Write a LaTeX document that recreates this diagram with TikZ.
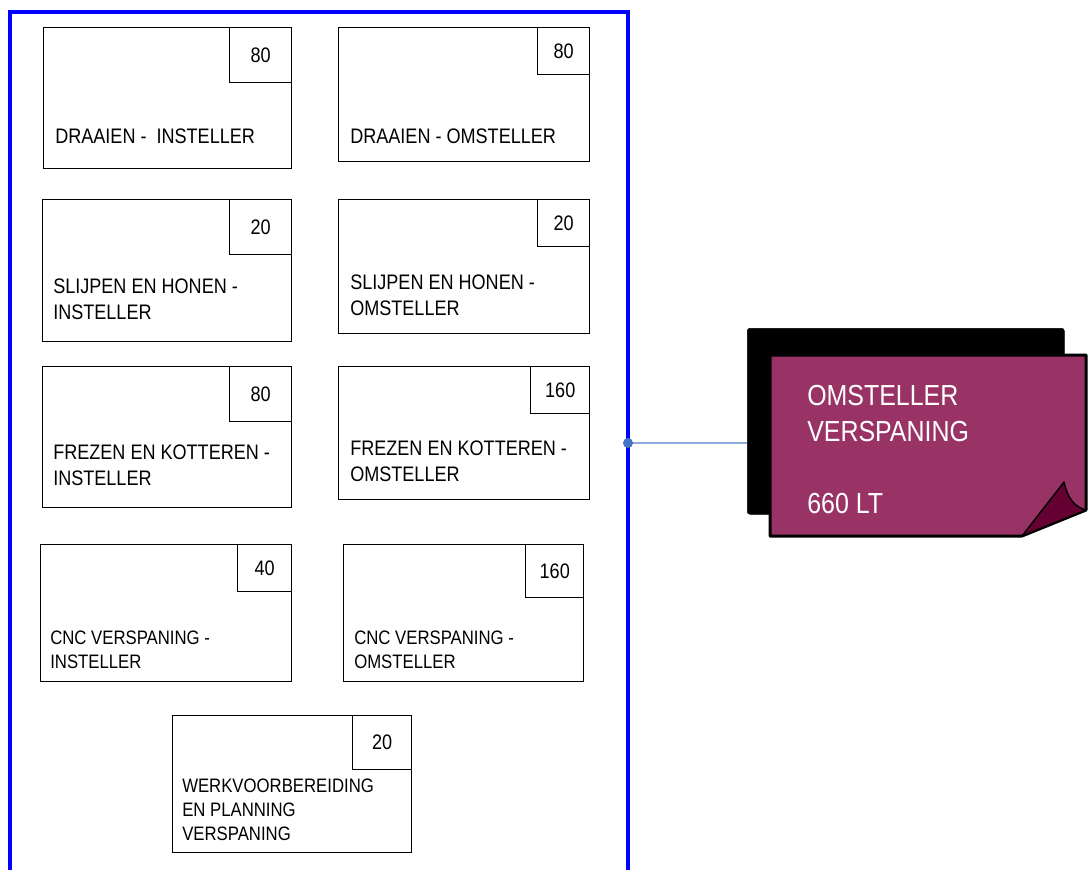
\documentclass[tikz,border=0pt]{standalone}
\usepackage{fontspec}
\setmainfont{Liberation Sans}[FakeStretch=0.86]
\definecolor{kaderblauw}{RGB}{0,0,255}
\definecolor{lijnblauw}{RGB}{143,170,220}
\definecolor{puntblauw}{RGB}{68,114,196}
\definecolor{notitiepaars}{RGB}{153,51,102}
\definecolor{vouwpaars}{RGB}{102,0,51}
\tikzset{
  taak/.style         = {draw,line width=1.1pt,inner sep=0pt,anchor=north west},
  getal/.style        = {draw,line width=1.1pt,inner sep=0pt,anchor=north east,
                         font=\fontsize{15.75}{19.5}\selectfont},
  omschrijving/.style = {anchor=base west,inner sep=0pt,align=left,
                         font=\fontsize{15.75}{19.5}\selectfont},
  omschrklein/.style  = {omschrijving,font=\fontsize{14.6}{18}\selectfont},
  kader/.style        = {kaderblauw,line width=2.6pt},
  verbinding/.style   = {lijnblauw,line width=1.5pt}
}

\begin{document}
\begin{tikzpicture}[x=0.75pt,y=-0.75pt]
  \useasboundingbox (0,0) rectangle (1091,869);
  % blauw kader
  \draw[kader] (10,875) -- (10,12) -- (628,12) -- (628,875);
  % rij 1
  \node[taak,minimum width=186pt,minimum height=105.75pt] (draaiIn) at (43,27) {};
  \node[getal,minimum width=46.5pt,minimum height=41.25pt] (draaiInGetal) at (draaiIn.north east) {80};
  \node[omschrijving] (draaiInTekst) at (55,143) {DRAAIEN -\ \ INSTELLER};
  \node[taak,minimum width=188.25pt,minimum height=100.5pt] (draaiOm) at (338,27) {};
  \node[getal,minimum width=39pt,minimum height=35.25pt] (draaiOmGetal) at (draaiOm.north east) {80};
  \node[omschrijving] (draaiOmTekst) at (350,143) {DRAAIEN - OMSTELLER};
  % rij 2
  \node[taak,minimum width=186.75pt,minimum height=106.5pt] (slijpIn) at (42,199) {};
  \node[getal,minimum width=46.5pt,minimum height=41.25pt] (slijpInGetal) at (slijpIn.north east) {20};
  \node[omschrijving] (slijpInTekst) at (53,319) {SLIJPEN EN HONEN -\\INSTELLER};
  \node[taak,minimum width=188.25pt,minimum height=100.5pt] (slijpOm) at (338,199) {};
  \node[getal,minimum width=39pt,minimum height=35.25pt] (slijpOmGetal) at (slijpOm.north east) {20};
  \node[omschrijving] (slijpOmTekst) at (350,315) {SLIJPEN EN HONEN -\\OMSTELLER};
  % rij 3
  \node[taak,minimum width=186.75pt,minimum height=105.75pt] (frezenIn) at (42,366) {};
  \node[getal,minimum width=46.5pt,minimum height=41.25pt] (frezenInGetal) at (frezenIn.north east) {80};
  \node[omschrijving] (frezenInTekst) at (53,485) {FREZEN EN KOTTEREN -\\INSTELLER};
  \node[taak,minimum width=188.25pt,minimum height=99.75pt] (frezenOm) at (338,366) {};
  \node[getal,minimum width=44.25pt,minimum height=35.25pt] (frezenOmGetal) at (frezenOm.north east) {160};
  \node[omschrijving] (frezenOmTekst) at (350,481) {FREZEN EN KOTTEREN -\\OMSTELLER};
  % rij 4
  \node[taak,minimum width=188.25pt,minimum height=102.75pt] (cncIn) at (40,544) {};
  \node[getal,minimum width=40.5pt,minimum height=35.25pt] (cncInGetal) at (cncIn.north east) {40};
  \node[omschrklein] (cncInTekst) at (50,668) {CNC VERSPANING -\\INSTELLER};
  \node[taak,minimum width=180pt,minimum height=102.75pt] (cncOm) at (343,544) {};
  \node[getal,minimum width=43.5pt,minimum height=39.75pt] (cncOmGetal) at (cncOm.north east) {160};
  \node[omschrklein] (cncOmTekst) at (354,668) {CNC VERSPANING -\\OMSTELLER};
  % rij 5
  \node[taak,minimum width=179.25pt,minimum height=102.75pt] (werkvb) at (172,715) {};
  \node[getal,minimum width=44.25pt,minimum height=40.5pt] (werkvbGetal) at (werkvb.north east) {20};
  \node[omschrklein] (werkvbTekst) at (182,840) {WERKVOORBEREIDING\\EN PLANNING\\VERSPANING};
  % notitieblad
  \node[fill=black,draw=black,rounded corners=2pt,inner sep=0pt,anchor=north west,
        minimum width=237.75pt,minimum height=139.5pt] (achterblad) at (747,328) {};
  \draw[line width=2.25pt,line join=round,fill=notitiepaars]
    (770,355) -- (1086,355) -- (1086,510) -- (1022,536) -- (770,536) -- cycle;
  \draw[line width=1.1pt,line join=round,fill=vouwpaars]
    (1022,536) -- (1064,482) .. controls (1067,497) and (1074,507) .. (1086,510) -- cycle;
  \node[anchor=base west,inner sep=0pt,align=left,white,
        font=\fontsize{21.75}{26.8}\selectfont] (notitie) at (807,513)
    {OMSTELLER\\VERSPANING\\[26.8pt]660 LT};
  % verbinding
  \coordinate (aansluiting) at (628,443);
  \draw[verbinding] (aansluiting) -- (aansluiting -| achterblad.west);
  \fill[puntblauw] (aansluiting) circle (3.75pt);
\end{tikzpicture}
\end{document}
